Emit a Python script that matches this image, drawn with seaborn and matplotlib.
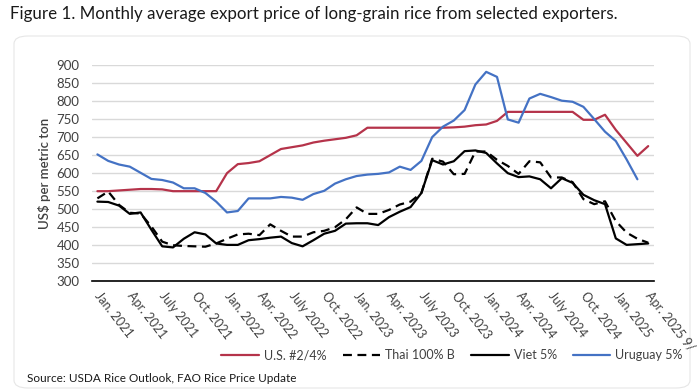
import numpy as np
import pandas as pd
import matplotlib
matplotlib.use("Agg")
import matplotlib.pyplot as plt
import seaborn as sns
from matplotlib.patches import FancyBboxPatch
from matplotlib.lines import Line2D

# ---------------- data ----------------
months = pd.date_range("2021-01-01", "2025-04-01", freq="MS")  # 52 months

us = [550, 550, 552, 554, 556, 556, 555, 550, 550, 550, 550, 550,
      600, 625, 628, 633, 650, 667, 672, 677, 685, 690, 694, 698,
      705, 726, 726, 726, 726, 726, 726, 726, 726, 727, 729, 733,
      735, 745, 770, 770, 770, 770, 770, 770, 770, 748, 748, 762,
      720, 684, 648, 675]

thai = [530, 549, 512, 490, 488, 452, 410, 400, 398, 397, 396, 405,
        418, 430, 432, 428, 458, 440, 424, 424, 436, 440, 450, 472,
        505, 487, 487, 498, 513, 521, 545, 640, 632, 597, 598, 660,
        660, 637, 620, 598, 633, 630, 588, 588, 575, 528, 514, 522,
        467, 435, 418, 407]

viet = [521, 520, 510, 487, 491, 443, 397, 394, 418, 436, 430, 405,
        401, 401, 414, 417, 421, 424, 406, 397, 414, 432, 440, 460,
        461, 461, 456, 478, 493, 506, 545, 636, 624, 633, 661, 663,
        656, 627, 600, 589, 591, 583, 558, 586, 573, 540, 525, 514,
        419, 401, 403, 405]

uruguay = [652, 634, 624, 618, 601, 584, 581, 574, 558, 558, 545, 521,
           491, 495, 530, 530, 530, 534, 532, 526, 542, 551, 571, 583,
           592, 596, 598, 602, 618, 609, 634, 700, 729, 746, 775, 846,
           881, 867, 749, 740, 807, 820, 811, 801, 798, 784, 750, 715,
           689, 638, 583, np.nan]

series_names = ["U.S. #2/4%", "Thai 100% B", "Viet 5%", "Uruguay 5%"]

tick_labels = ["Jan. 2021", "Apr. 2021", "July 2021", "Oct. 2021",
               "Jan. 2022", "Apr. 2022", "July 2022", "Oct. 2022",
               "Jan. 2023", "Apr. 2023", "July 2023", "Oct. 2023",
               "Jan. 2024", "Apr. 2024", "July 2024", "Oct. 2024",
               "Jan. 2025", "Apr. 2025 9/"]

title = "Figure 1. Monthly average export price of long-grain rice from selected exporters."
source = "Source: USDA Rice Outlook, FAO Rice Price Update"
ylabel = "US$ per metric ton"

# ---------------- styling ----------------
sns.set_theme(style="white")
plt.rcParams["font.family"] = ["Lato", "DejaVu Sans"]

colors = {"U.S. #2/4%": "#B5334A", "Thai 100% B": "#000000",
          "Viet 5%": "#000000", "Uruguay 5%": "#4472C4"}
dashes = {"U.S. #2/4%": "", "Thai 100% B": (4, 2.5),
          "Viet 5%": "", "Uruguay 5%": ""}

n = len(months)
df = pd.DataFrame({
    "idx": np.tile(np.arange(n), 4),
    "series": np.repeat(series_names, n),
    "price": np.concatenate([us, thai, viet, uruguay]).astype(float),
})

fig = plt.figure(figsize=(7.0, 3.91), dpi=100)
fig.patch.set_facecolor("white")

# chart frame (behind everything)
frame = FancyBboxPatch((14 / 700, 1 - 388 / 391), (690 - 14) / 700, (388 - 36) / 391,
                       boxstyle="round,pad=0,rounding_size=0.02",
                       transform=fig.transFigure, facecolor="white",
                       edgecolor="#e6e6e6", linewidth=0.8, zorder=-5)
fig.add_artist(frame)

ax = fig.add_axes([92 / 700, 1 - 281.3 / 391, 561.6 / 700, 216.3 / 391])
ax.set_zorder(2)
ax.set_facecolor("none")

sns.lineplot(data=df, x="idx", y="price", hue="series", style="series",
             palette=colors, dashes=dashes, hue_order=series_names,
             style_order=series_names, linewidth=1.6, estimator=None,
             sort=False, legend=False, ax=ax)

ax.set_xlim(-0.5, n - 0.5)
ax.set_ylim(300, 900)
ax.set_yticks(np.arange(300, 901, 50))
ax.yaxis.grid(True, color="#d9d9d9", linewidth=1.0)
ax.xaxis.grid(False)
ax.set_axisbelow(True)

for s in ["top", "right", "left"]:
    ax.spines[s].set_visible(False)
ax.spines["bottom"].set_color("black")
ax.spines["bottom"].set_linewidth(1.2)

ax.set_xticks(np.arange(0, n, 3))
ax.set_xticklabels(tick_labels, rotation=-52, ha="left", va="center",
                   rotation_mode="anchor", fontsize=9, color="#404040")
ax.set_xticks(np.arange(-0.5, n - 1, 3), minor=True)
ax.tick_params(axis="x", which="major", length=0, pad=9)
ax.tick_params(axis="x", which="minor", direction="inout", length=7,
               width=1.2, color="black")
ax.tick_params(axis="y", length=0, pad=9, labelsize=9.5, labelcolor="#404040")

ax.set_xlabel("")
ax.set_ylabel(ylabel, fontsize=9.5, color="#404040", fontweight="semibold")
ax.yaxis.set_label_coords(-0.073, 0.5)

fig.text(10 / 700, 1 - 14 / 391, title, ha="left", va="center",
         fontsize=12.2, color="#1a1a1a")
fig.text(27 / 700, 1 - 379 / 391, source, ha="left", va="center",
         fontsize=8.5, color="#1a1a1a")

handles = [Line2D([0], [0], color=colors[s], lw=1.6,
                  linestyle=(0, dashes[s]) if dashes[s] else "-")
           for s in series_names]
fig.legend(handles, series_names, loc="center",
           bbox_to_anchor=(452 / 700, 1 - 355 / 391), ncol=4, frameon=False,
           fontsize=9, handlelength=3.0, handletextpad=0.4,
           columnspacing=1.3, labelcolor="#404040")

fig.savefig("out.png", dpi=100, facecolor="white")
